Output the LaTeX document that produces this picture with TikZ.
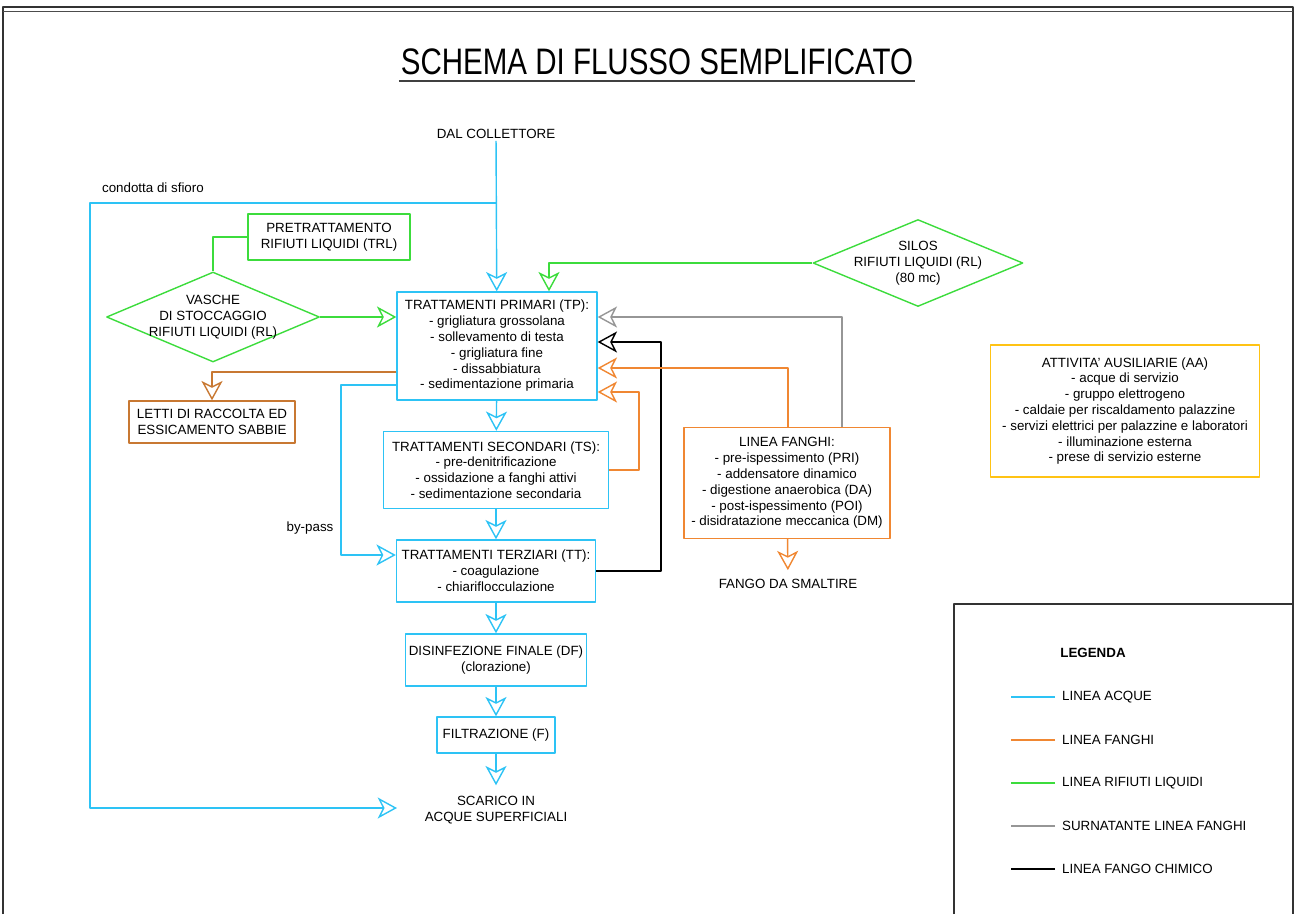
\documentclass[tikz,border=0pt]{standalone}
\usepackage{fontspec}
\setmainfont{Liberation Sans}
\newfontfamily\titlefont[FakeStretch=0.8]{Liberation Sans}
\usetikzlibrary{arrows.meta,shapes.geometric}
\definecolor{acque}{RGB}{45,195,245}
\definecolor{fanghi}{RGB}{240,135,50}
\definecolor{sabbie}{RGB}{200,120,50}
\definecolor{rifiuti}{RGB}{60,220,60}
\definecolor{surn}{RGB}{150,150,150}
\definecolor{ausil}{RGB}{255,195,20}

\begin{document}
\begin{tikzpicture}[x={(0.02cm,0)}, y={(0,-0.02cm)},
	line join=round,
	every node/.style={font=\fontsize{7.6}{9}\selectfont, align=center, inner sep=1pt},
	box/.style={draw, line width=0.8pt, inner sep=2pt},
	rombo/.style={draw, diamond, inner xsep=-30pt, inner ysep=-10pt, line width=0.8pt},
	freccia/.style={-{Stealth[open, length=11pt, width=12pt, inset=3pt]}},
	acq/.style={draw=acque, line width=0.8pt},
	fan/.style={draw=fanghi, line width=0.8pt},
	sab/.style={draw=sabbie, line width=0.8pt},
	rif/.style={draw=rifiuti, line width=0.8pt},
	sur/.style={draw=surn, line width=0.8pt},
	chim/.style={draw=black, line width=0.8pt}
	]
	\useasboundingbox (0,0) rectangle (1295,914);
	% cornice
	\draw[line width=1.3pt, black!80] (3,914) -- (3,7) -- (1293,7) -- (1293,914);
	\draw[line width=0.5pt, black!70] (3,11) -- (1293,11);
	\node[font=\titlefont\fontsize{21}{24}\selectfont] (tit) at (657,62) {SCHEMA DI FLUSSO SEMPLIFICATO};
	\draw[line width=1.3pt, black!75] ([yshift=-2pt]tit.south west) -- ([yshift=-2pt]tit.south east);
	
	% linea acque
	\node (dal) at (496,134) {DAL COLLETTORE};
	\node[box, acq, minimum width=4cm, minimum height=2.16cm] (tp) at (497,346)
		{TRATTAMENTI PRIMARI (TP):\\- grigliatura grossolana\\- sollevamento di testa\\- grigliatura fine\\- dissabbiatura\\- sedimentazione primaria};
	\node[box, acq, minimum width=4.5cm, minimum height=1.54cm] (ts) at (496,470)
		{TRATTAMENTI SECONDARI (TS):\\- pre-denitrificazione\\- ossidazione a fanghi attivi\\- sedimentazione secondaria};
	\node[box, acq, minimum width=3.98cm, minimum height=1.24cm] (tt) at (496,571)
		{TRATTAMENTI TERZIARI (TT):\\- coagulazione\\- chiariflocculazione};
	\node[box, acq, minimum width=3.58cm, minimum height=1.04cm] (df) at (496,660)
		{DISINFEZIONE FINALE (DF)\\(clorazione)};
	\node[box, acq, minimum width=2.36cm, minimum height=0.72cm] (fil) at (496,735) {FILTRAZIONE (F)};
	\node[inner sep=6pt] (sca) at (496,810) {SCARICO IN\\ACQUE SUPERFICIALI};
	
	% rifiuti liquidi
	\node[box, rif, minimum width=3.24cm, minimum height=0.92cm] (pre) at (329,237)
		{PRETRATTAMENTO\\RIFIUTI LIQUIDI (TRL)};
	\node[rombo, rif, minimum width=4.26cm, minimum height=1.8cm] (vas) at (213,317)
		{VASCHE\\DI STOCCAGGIO\\RIFIUTI LIQUIDI (RL)};
	\node[rombo, rif, minimum width=4.2cm, minimum height=1.74cm] (sil) at (918,263)
		{SILOS\\RIFIUTI LIQUIDI (RL)\\(80 mc)};
	
	% fanghi e sabbie
	\node[box, sab, minimum width=3.32cm, minimum height=0.84cm] (let) at (212,422)
		{LETTI DI RACCOLTA ED\\ESSICAMENTO SABBIE};
	\node[box, fan, minimum width=4.12cm, minimum height=2.22cm] (lf) at (787,483)
		{LINEA FANGHI:\\- pre-ispessimento (PRI)\\- addensatore dinamico\\- digestione anaerobica (DA)\\- post-ispessimento (POI)\\- disidratazione meccanica (DM)};
	\node[inner sep=5pt] (fan) at (788,584) {FANGO DA SMALTIRE};
	
	\node[box, draw=ausil, line width=0.8pt, minimum width=5.38cm, minimum height=2.64cm] (aa) at (1125,411)
		{ATTIVITA' AUSILIARIE (AA)\\- acque di servizio\\- gruppo elettrogeno\\- caldaie per riscaldamento palazzine\\- servizi elettrici per palazzine e laboratori\\- illuminazione esterna\\- prese di servizio esterne};
	
	\node[anchor=west] (sfi) at (100,188) {condotta di sfioro};
	\node (byp) at (310,528) {by-pass};
	
	% punti di piega
	\coordinate (sfA) at (90,203);
	\coordinate (sfB) at (397,808);
	\coordinate (bpA) at (341,385);
	\coordinate (bpB) at (341,555);
	\coordinate (ls) at (0,372);
	\coordinate (rs) at (549,0);
	\coordinate (sg) at (842,317);
	\coordinate (sk) at (661,342);
	\coordinate (so) at (788,368);
	\coordinate (st) at (639,392);
	
	% connessioni
	\draw[acq, freccia] (dal) -- (tp);
	\draw[acq, freccia] (dal.south |- sfA) -- (sfA) |- (sfB);
	\draw[acq, freccia] (tp) -- (ts);
	\draw[acq, freccia] (ts) -- (tt);
	\draw[acq, freccia] (tt) -- (df);
	\draw[acq, freccia] (df) -- (fil);
	\draw[acq, freccia] (fil) -- (sca);
	\draw[acq, freccia] (tp.west |- bpA) -| (bpB) -- (tt.west |- bpB);
	
	\draw[rif] (pre.west) -| (vas.north);
	\draw[rif, freccia] (vas.east) -- (tp.west |- vas.east);
	\draw[rif, freccia] (sil.west) -| (tp.north -| rs);
	
	\draw[sab, freccia] (tp.west |- ls) -| (let.north);
	\draw[sur, freccia] (lf.north -| sg) |- (tp.east |- sg);
	\draw[chim, freccia] (tt.east) -| (sk) -- (tp.east |- sk);
	\draw[fan, freccia] (lf.north -| so) |- (tp.east |- so);
	\draw[fan, freccia] (ts.east) -| (st) -- (tp.east |- st);
	\draw[fan, freccia] (lf) -- (fan);
	
	% legenda
	\draw[line width=0.8pt, black!80] (954,914) -- (954,604) -- (1293,604);
	\node[font=\bfseries\fontsize{7.6}{9}\selectfont] (leg) at (1093,653) {LEGENDA};
	\foreach \c/\t [count=\i] in {acque/LINEA ACQUE, fanghi/LINEA FANGHI, rifiuti/LINEA RIFIUTI LIQUIDI, surn/SURNATANTE LINEA FANGHI, black/LINEA FANGO CHIMICO}
	{
		\node[anchor=west] (leg\i) at (1060,{697+(\i-1)*43}) {\t};
		\draw[draw=\c, line width=0.8pt] (leg\i.west) ++(-5,0) -- ++(-44,0);
	}
\end{tikzpicture}
\end{document}
